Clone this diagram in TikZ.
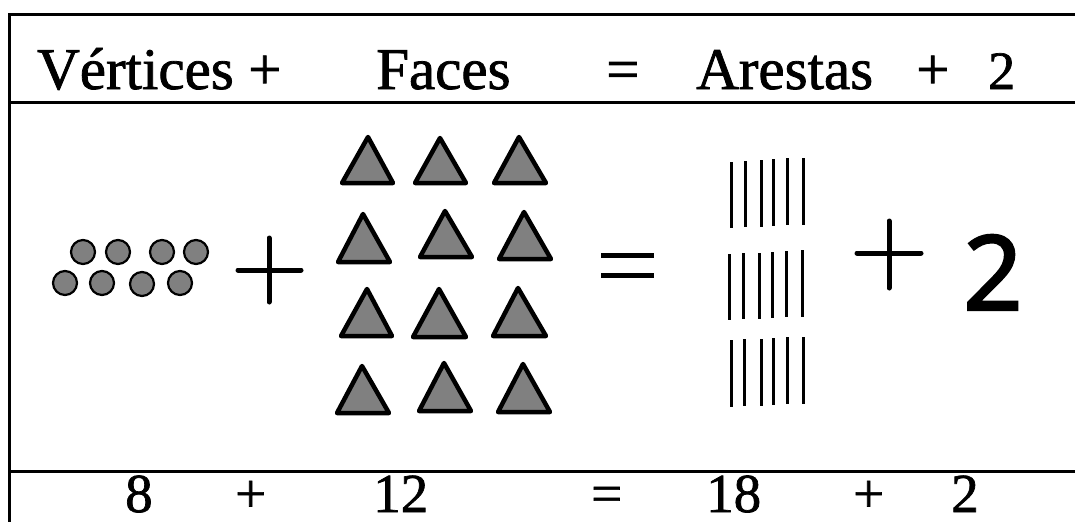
\documentclass[tikz,border=0pt]{standalone}
\usepackage{fontspec}
\setmainfont{Liberation Serif}
\newfontfamily\medserif{Liberation Serif}[FakeBold=1.3]
\newfontfamily\sansf{Noto Sans}[FakeBold=2]
\begin{document}
\begin{tikzpicture}[x=1pt,y=-1pt,
  frame/.style={line width=3pt},
  head/.style={inner sep=0pt,anchor=base west,font=\medserif\fontsize{59}{61}\selectfont},
  foot/.style={inner sep=0pt,anchor=base west,font=\medserif\fontsize{55}{57}\selectfont},
  dot/.style={fill=black!50,draw=black,line width=2.2pt},
  tri/.style={fill=black!50,draw=black,line width=4.5pt,line join=round},
  tally/.style={line width=3pt},
  bigop/.style={line width=5pt,line cap=round}]
\useasboundingbox (0,0) rectangle (1075,522);
% frame
\coordinate (TL) at (9,14);
\coordinate (TR) at (1075,14);
\coordinate (BL) at (9,522);
\coordinate (HL) at (9,102);
\coordinate (HR) at (1075,102);
\coordinate (FL) at (9,471);
\coordinate (FR) at (1075,471);
\draw[frame] (TR) -- (TL) -- (BL);
\draw[frame] (HL) -- (HR);
\draw[frame] (FL) -- (FR);
% header
\node[head] (hv) at (37,89) {Vértices};
\node[head] (hp1) at (248,89) {+};
\node[head] (hf) at (376,89) {Faces};
\node[head] (heq) at (606,89) {=};
\node[head] (ha) at (696,89) {Arestas};
\node[head] (hp2) at (916,89) {+};
\node[head,font=\medserif\fontsize{54}{56}\selectfont] (h2) at (988,89) {2};
% circles
\foreach \x/\y [count=\i] in {83/252,118/252,162/252,196/252,65/283,102/283,142/284,180/283}
  \draw[dot] (\x,\y) circle (12);
% plus 1
\coordinate (p1l) at (238,270); \coordinate (p1r) at (301,270);
\coordinate (p1t) at (269,238); \coordinate (p1b) at (269,302);
\draw[bigop] (p1l) -- (p1r) (p1t) -- (p1b);
% triangles: apex x, apex y, base y, base left, base right
\foreach \ax/\ay/\by/\bl/\br in {
  368/137/183/342/393, 440/138/183/415/466, 519/137/183/494/546,
  363/214/262/338/390, 445/211/257/420/472, 524/212/259/499/551,
  367/289/336/341/392, 439/289/337/413/466, 518/288/336/493/546,
  362/366/413/337/389, 444/363/411/419/471, 523/364/412/498/550}
  \draw[tri] (\ax,\ay) -- (\br,\by) -- (\bl,\by) -- cycle;
% equals
\coordinate (e1l) at (601,255); \coordinate (e1r) at (654,255);
\coordinate (e2l) at (601,275); \coordinate (e2r) at (654,275);
\draw[line width=5pt] (e1l) -- (e1r) (e2l) -- (e2r);
% tallies
\foreach \x/\t/\b in {731/162/228,745/161/227,761/160/227,773/159/226,787/158/225,803/158/225}
  \draw[tally] (\x,\t) -- (\x,\b);
\foreach \x/\t/\b in {729/254/320,743/253/319,759/253/319,772/252/318,786/251/317,802/250/317}
  \draw[tally] (\x,\t) -- (\x,\b);
\foreach \x/\t/\b in {731/340/407,744/339/406,761/339/406,773/338/405,787/337/404,803/337/404}
  \draw[tally] (\x,\t) -- (\x,\b);
% plus 2
\coordinate (p2l) at (857,253); \coordinate (p2r) at (921,253);
\coordinate (p2t) at (889,221); \coordinate (p2b) at (889,288);
\draw[bigop] (p2l) -- (p2r) (p2t) -- (p2b);
\node[inner sep=0pt,anchor=base west,font=\sansf\fontsize{104}{106}\selectfont] (big2) at (963,310) {2};
% footer
\node[foot] (f8) at (125,512) {8};
\node[foot] (fp1) at (235,512) {+};
\node[foot] (f12) at (373,512) {12};
\node[foot] (feq) at (591,512) {=};
\node[foot] (f18) at (706,512) {18};
\node[foot] (fp2) at (853,512) {+};
\node[foot] (f2) at (951,512) {2};
\end{tikzpicture}
\end{document}
